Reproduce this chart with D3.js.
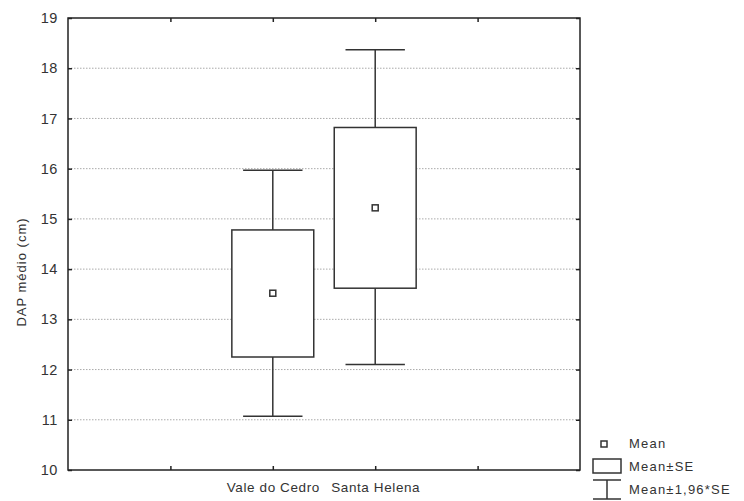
<!DOCTYPE html>
<html>
<head>
<meta charset="utf-8">
<script src="https://cdn.jsdelivr.net/npm/d3@7"></script>
<style>
  body { margin: 0; background: #fff; }
  text { font-family: "Liberation Sans", Arial, sans-serif; fill: #333; }
</style>
</head>
<body>
<div class="canva"></div>
<script>
var width = 744;
var height = 501;

// data
const categories = ['Vale do Cedro', 'Santa Helena'];
const means      = [13.52, 15.22];
const seLow      = [12.25, 13.62];
const seHigh     = [14.78, 16.82];
const ciLow      = [11.07, 12.10];
const ciHigh     = [15.97, 18.37];
const yTicks     = [10, 11, 12, 13, 14, 15, 16, 17, 18, 19];
const legendItems = ['Mean', 'Mean\u00b1SE', 'Mean\u00b11,96*SE'];

const pLeft = 68, pRight = 580, pTop = 18, pBottom = 470;

const svg = d3.select('.canva').append('svg')
            .attr('width', width)
            .attr('height', height);

const x = d3.scaleLinear().domain([-1, 4]).range([pLeft, pRight]);
const y = d3.scaleLinear().domain([10, 19]).range([pBottom, pTop]);

// grid lines
svg.append('g').selectAll('line')
   .data(yTicks.filter(d => d > 10 && d < 19))
   .enter().append('line')
   .attr('x1', pLeft).attr('x2', pRight)
   .attr('y1', d => y(d)).attr('y2', d => y(d))
   .attr('stroke', '#aaa')
   .attr('stroke-width', 1)
   .attr('stroke-dasharray', '1.5,1.5');

// axes with inside ticks
const axisStyle = g => {
  g.select('.domain').remove();
  g.selectAll('line').attr('stroke', '#222').attr('stroke-width', 1.5);
};

svg.append('g')
   .attr('transform', `translate(${pLeft},0)`)
   .call(d3.axisLeft(y).tickValues(yTicks).tickSize(-4).tickPadding(10).tickFormat(d3.format('d')))
   .call(axisStyle)
   .call(g => g.selectAll('text').attr('font-size', 14.5).attr('letter-spacing', 0.6).attr('fill', '#333'));

svg.append('g')
   .attr('transform', `translate(${pRight},0)`)
   .call(d3.axisRight(y).tickValues(yTicks).tickSize(-4).tickFormat(''))
   .call(axisStyle);

svg.append('g')
   .attr('transform', `translate(0,${pBottom})`)
   .call(d3.axisBottom(x).tickValues([0, 1, 2, 3]).tickSize(-4).tickPadding(12)
         .tickFormat(d => categories[d - 1] || ''))
   .call(axisStyle)
   .call(g => g.selectAll('text').attr('font-size', 13.5).attr('letter-spacing', 0.6).attr('fill', '#333'));

svg.append('g')
   .attr('transform', `translate(0,${pTop})`)
   .call(d3.axisTop(x).tickValues([0, 1, 2, 3]).tickSize(-4).tickFormat(''))
   .call(axisStyle);

// frame
svg.append('rect')
   .attr('x', pLeft).attr('y', pTop)
   .attr('width', pRight - pLeft).attr('height', pBottom - pTop)
   .attr('fill', 'none').attr('stroke', '#222').attr('stroke-width', 1.5);

// y label
svg.append('text')
   .attr('transform', `translate(26,${(pTop + pBottom) / 2 + 28}) rotate(-90)`)
   .attr('text-anchor', 'middle')
   .attr('font-size', 13)
   .attr('letter-spacing', 1)
   .text('DAP médio (cm)');

// boxes
const idx = categories.map((c, i) => i);
const g = svg.append('g');

g.selectAll('.whisker').data(idx).enter().append('line')
   .attr('x1', i => x(i + 1)).attr('x2', i => x(i + 1))
   .attr('y1', i => y(ciLow[i])).attr('y2', i => y(ciHigh[i]))
   .attr('stroke', '#333').attr('stroke-width', 1.5);

['lo', 'hi'].forEach(k => {
  g.selectAll('.cap' + k).data(idx).enter().append('line')
     .attr('x1', i => x(i + 1 - 0.29)).attr('x2', i => x(i + 1 + 0.29))
     .attr('y1', i => y(k === 'lo' ? ciLow[i] : ciHigh[i]))
     .attr('y2', i => y(k === 'lo' ? ciLow[i] : ciHigh[i]))
     .attr('stroke', '#333').attr('stroke-width', 1.5);
});

g.selectAll('.box').data(idx).enter().append('rect')
   .attr('x', i => x(i + 1 - 0.4))
   .attr('width', i => x(i + 1 + 0.4) - x(i + 1 - 0.4))
   .attr('y', i => y(seHigh[i]))
   .attr('height', i => y(seLow[i]) - y(seHigh[i]))
   .attr('fill', '#fff').attr('stroke', '#333').attr('stroke-width', 1.5);

g.selectAll('.mean').data(idx).enter().append('rect')
   .attr('x', i => x(i + 1) - 3).attr('y', i => y(means[i]) - 3)
   .attr('width', 6).attr('height', 6)
   .attr('fill', '#fff').attr('stroke', '#333').attr('stroke-width', 1.5);

// legend
const lg = svg.append('g');
lg.append('rect').attr('x', 601).attr('y', 441).attr('width', 6).attr('height', 6)
  .attr('fill', '#fff').attr('stroke', '#333').attr('stroke-width', 1.5);
lg.append('rect').attr('x', 593).attr('y', 459).attr('width', 28).attr('height', 14)
  .attr('fill', '#fff').attr('stroke', '#333').attr('stroke-width', 1.5);
lg.append('line').attr('x1', 593).attr('x2', 621).attr('y1', 480).attr('y2', 480)
  .attr('stroke', '#333').attr('stroke-width', 1.5);
lg.append('line').attr('x1', 607).attr('x2', 607).attr('y1', 480).attr('y2', 499)
  .attr('stroke', '#333').attr('stroke-width', 1.5);
lg.append('line').attr('x1', 593).attr('x2', 621).attr('y1', 499).attr('y2', 499)
  .attr('stroke', '#333').attr('stroke-width', 1.5);

lg.selectAll('text').data(legendItems).enter().append('text')
  .attr('x', 629)
  .attr('y', (d, i) => [448, 471, 494][i])
  .attr('font-size', 13)
  .attr('letter-spacing', 1.2)
  .text(d => d);
</script>
</body>
</html>
